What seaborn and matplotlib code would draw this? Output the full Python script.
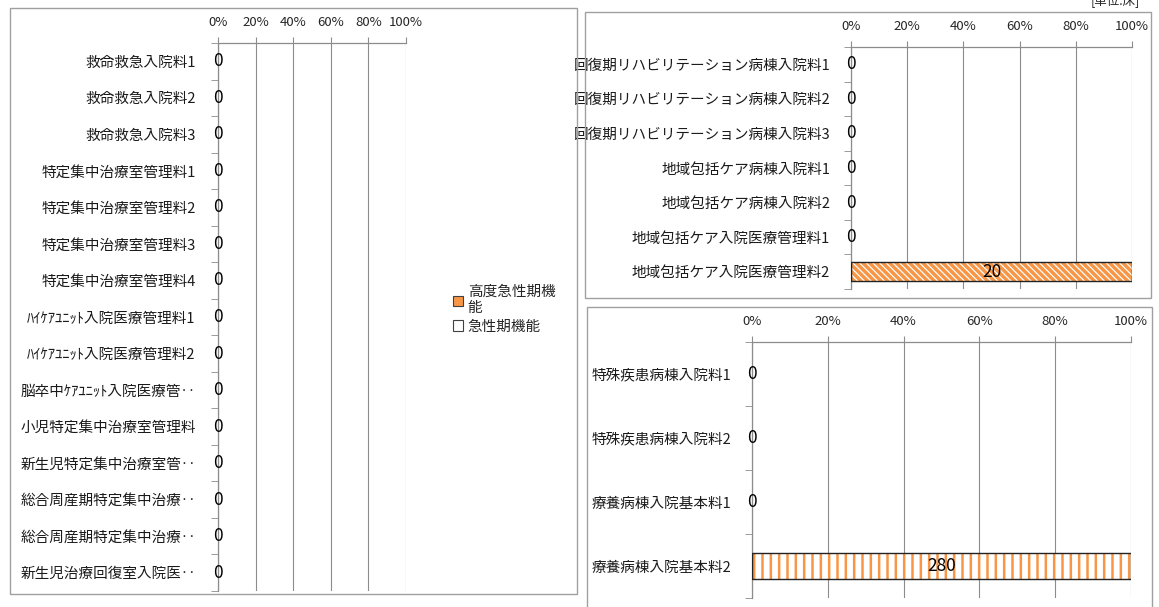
import numpy as np
import pandas as pd
import seaborn as sns
import matplotlib.pyplot as plt
from matplotlib.patches import Patch, Rectangle

sns.set_style('white')
plt.rcParams['font.family'] = ['Noto Sans CJK JP', 'DejaVu Sans']

ORANGE = '#F79646'
DARK = '#404040'
GRID = '#8c8c8c'

series_names = ['高度急性期機能', '急性期機能']

left_cats = ['救命救急入院料1', '救命救急入院料2', '救命救急入院料3',
             '特定集中治療室管理料1', '特定集中治療室管理料2', '特定集中治療室管理料3',
             '特定集中治療室管理料4', 'ﾊｲｹｱﾕﾆｯﾄ入院医療管理料1', 'ﾊｲｹｱﾕﾆｯﾄ入院医療管理料2',
             '脳卒中ｹｱﾕﾆｯﾄ入院医療管‥', '小児特定集中治療室管理料', '新生児特定集中治療室管‥',
             '総合周産期特定集中治療‥', '総合周産期特定集中治療‥', '新生児治療回復室入院医‥']
left_high = [0, 0, 0, 0, 0, 0, 0, 0, 0, 0, 0, 0, 0, 0, 0]
left_acute = [0, 0, 0, 0, 0, 0, 0, 0, 0, 0, 0, 0, 0, 0, 0]

tr_cats = ['回復期リハビリテーション病棟入院料1', '回復期リハビリテーション病棟入院料2',
           '回復期リハビリテーション病棟入院料3', '地域包括ケア病棟入院料1',
           '地域包括ケア病棟入院料2', '地域包括ケア入院医療管理料1', '地域包括ケア入院医療管理料2']
tr_high = [0, 0, 0, 0, 0, 0, 0]
tr_acute = [0, 0, 0, 0, 0, 0, 20]

br_cats = ['特殊疾患病棟入院料1', '特殊疾患病棟入院料2', '療養病棟入院基本料1', '療養病棟入院基本料2']
br_high = [0, 0, 0, 0]
br_acute = [0, 0, 0, 280]

W, H = 1159, 607
fig = plt.figure(figsize=(W / 100, H / 100), dpi=100)


def fig_box(x0, y0, x1, y1):
    return [x0 / W, 1 - y1 / H, (x1 - x0) / W, (y1 - y0) / H]


def panel(rect, cats, high, acute, hatch, hatch_lw, bar_w, pad):
    plt.rcParams['hatch.linewidth'] = hatch_lw
    ax = fig.add_axes(rect)
    n = len(cats)
    df = pd.DataFrame({'pos': np.arange(n), 'high': high, 'acute': acute})
    total = df['high'] + df['acute']
    df['total'] = total
    df['share_all'] = np.where(total > 0, 100.0, 0.0)
    df['share_high'] = np.where(total > 0, df['high'] / total.where(total > 0, 1) * 100, 0.0)

    sns.barplot(data=df, x='share_all', y='pos', orient='h', color='white',
                width=bar_w, ax=ax, saturation=1)
    sns.barplot(data=df, x='share_high', y='pos', orient='h', color=ORANGE,
                width=bar_w, ax=ax, saturation=1)

    for p in ax.containers[0].patches:
        p.set_hatch(hatch)
        p.set_edgecolor(ORANGE)
        p.set_linewidth(0)
        if p.get_width() > 0:
            ax.add_patch(Rectangle(p.get_xy(), p.get_width(), p.get_height(),
                                   fill=False, edgecolor='#222222', lw=1, zorder=3))
    for p in ax.containers[1].patches:
        p.set_edgecolor(DARK)
        p.set_linewidth(1 if p.get_width() > 0 else 0)

    ax.bar_label(ax.containers[0], labels=[str(v) for v in df['total']],
                 label_type='center', fontsize=12.5, color='black', zorder=4)

    ax.set_xlim(0, 100)
    ax.set_xticks(range(0, 101, 20))
    ax.set_xticklabels([f'{v}%' for v in range(0, 101, 20)], fontsize=9.5)
    ax.xaxis.tick_top()
    ax.tick_params(axis='x', which='major', top=True, length=4, color=GRID, pad=6)
    ax.grid(axis='x', color=GRID, lw=0.8)
    ax.set_axisbelow(True)

    ax.set_ylim(n - 0.5, -0.5)
    ax.set_yticks(range(n))
    ax.set_yticklabels(cats, fontsize=10.5, color='#1a1a1a')
    ax.set_yticks(np.arange(-0.5, n, 1), minor=True)
    ax.tick_params(axis='y', which='major', length=0, pad=pad)
    ax.tick_params(axis='y', which='minor', left=True, length=5, color=GRID)
    ax.set_xlabel('')
    ax.set_ylabel('')
    for s in ['right', 'bottom']:
        ax.spines[s].set_visible(False)
    for s in ['left', 'top']:
        ax.spines[s].set_color(GRID)
        ax.spines[s].set_linewidth(0.9)
    return ax


panel(fig_box(218, 43, 406, 591), left_cats, left_high, left_acute, '\\\\\\\\\\', 2.5, 0.5, 16)
panel(fig_box(851, 47, 1132, 289), tr_cats, tr_high, tr_acute, '\\\\\\\\\\', 2.5, 0.55, 15)
panel(fig_box(752, 342, 1131, 598), br_cats, br_high, br_acute, '||', 1.8, 0.4, 15)

# outer frames of the three chart areas
for x0, y0, x1, y1 in [(10, 8, 577, 594), (585, 12, 1151, 298), (587, 307, 1152, 615)]:
    fig.patches.append(Rectangle((x0 / W, 1 - y1 / H), (x1 - x0) / W, (y1 - y0) / H,
                                 transform=fig.transFigure, fill=False,
                                 edgecolor='#a0a0a0', lw=1))

plt.rcParams['hatch.linewidth'] = 1.0
handles = [Patch(facecolor=ORANGE, edgecolor=DARK, lw=0.8),
           Patch(facecolor='white', edgecolor=DARK, lw=0.8)]
fig.legend(handles, ['高度急性期機\n能', series_names[1]], loc='upper left',
           bbox_to_anchor=(440 / W, 1 - 272 / H), frameon=False, fontsize=10.5,
           handlelength=0.7, handleheight=0.7, handletextpad=0.3, labelspacing=0.3)

fig.text(1140 / W, 1 - 5 / H, '[単位:床]', ha='right', va='baseline', fontsize=9)

fig.savefig('out.png', dpi=100)
